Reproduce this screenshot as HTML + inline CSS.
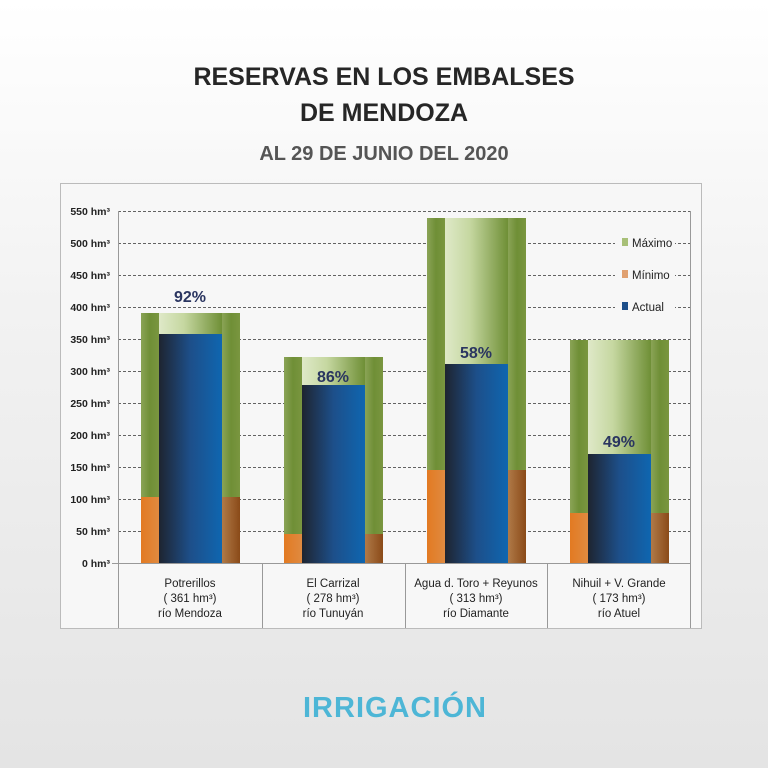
<!DOCTYPE html>
<html><head><meta charset="utf-8"><style>
body{margin:0;width:768px;height:768px;overflow:hidden;background:linear-gradient(#fff 0%,#f2f2f2 40%,#e4e4e4 100%);font-family:"Liberation Sans",sans-serif;}
</style></head><body>
<svg width="768" height="768" xmlns="http://www.w3.org/2000/svg" style="position:absolute;left:0;top:0">
<defs>
<linearGradient id="gS" x1="0" x2="1"><stop offset="0" stop-color="#8aa356"/><stop offset="0.5" stop-color="#6f8f36"/><stop offset="1" stop-color="#7a9640"/></linearGradient>
<linearGradient id="gI" x1="0" x2="1"><stop offset="0" stop-color="#dfe9c8"/><stop offset="0.4" stop-color="#c5d7a0"/><stop offset="1" stop-color="#6f8f36"/></linearGradient>
<linearGradient id="oL" x1="0" x2="1"><stop offset="0" stop-color="#e27a22"/><stop offset="1" stop-color="#e08a40"/></linearGradient>
<linearGradient id="oR" x1="0" x2="1"><stop offset="0" stop-color="#b07a48"/><stop offset="1" stop-color="#8a4a18"/></linearGradient>
<linearGradient id="bl" x1="0" x2="1"><stop offset="0" stop-color="#1e2430"/><stop offset="0.5" stop-color="#1d4f8a"/><stop offset="1" stop-color="#0f66b0"/></linearGradient>
</defs>
<text x="384" y="85" text-anchor="middle" font-size="25" font-weight="bold" fill="#262626">RESERVAS EN LOS EMBALSES</text>
<text x="384" y="121" text-anchor="middle" font-size="25" font-weight="bold" fill="#262626">DE MENDOZA</text>
<text x="384" y="160" text-anchor="middle" font-size="20" font-weight="bold" fill="#555">AL 29 DE JUNIO DEL 2020</text>
<rect x="60.5" y="183.5" width="641" height="445" fill="#f7f7f7" stroke="#bbb"/>
<g stroke="#333" stroke-dasharray="3,2" stroke-width="0.8">
<line x1="118" x2="690" y1="211.5" y2="211.5"/><line x1="118" x2="690" y1="243.5" y2="243.5"/><line x1="118" x2="690" y1="275.5" y2="275.5"/><line x1="118" x2="690" y1="307.5" y2="307.5"/><line x1="118" x2="690" y1="339.5" y2="339.5"/><line x1="118" x2="690" y1="371.5" y2="371.5"/><line x1="118" x2="690" y1="403.5" y2="403.5"/><line x1="118" x2="690" y1="435.5" y2="435.5"/><line x1="118" x2="690" y1="467.5" y2="467.5"/><line x1="118" x2="690" y1="499.5" y2="499.5"/><line x1="118" x2="690" y1="531.5" y2="531.5"/>
</g>
<rect x="615" y="232" width="60" height="85" fill="#f7f7f7"/>
<g font-size="10.5" font-weight="bold" fill="#222" text-anchor="end">
<text x="110" y="215">550 hm³</text><text x="110" y="247">500 hm³</text><text x="110" y="279">450 hm³</text><text x="110" y="311">400 hm³</text><text x="110" y="343">350 hm³</text><text x="110" y="375">300 hm³</text><text x="110" y="407">250 hm³</text><text x="110" y="439">200 hm³</text><text x="110" y="471">150 hm³</text><text x="110" y="503">100 hm³</text><text x="110" y="535">50 hm³</text><text x="110" y="567">0 hm³</text>
</g>
<g stroke="#999" stroke-width="1">
<line x1="118.5" y1="211" x2="118.5" y2="628"/><line x1="262.5" y1="563" x2="262.5" y2="628"/><line x1="405.5" y1="563" x2="405.5" y2="628"/><line x1="547.5" y1="563" x2="547.5" y2="628"/><line x1="690.5" y1="211" x2="690.5" y2="628"/><line x1="112" y1="563.5" x2="690" y2="563.5"/>
</g>
<g>
<rect x="141" y="313" width="18" height="250" fill="url(#gS)"/><rect x="222" y="313" width="18" height="250" fill="url(#gS)"/><rect x="159" y="313" width="63" height="250" fill="url(#gI)"/>
<rect x="141" y="497" width="18" height="66" fill="url(#oL)"/><rect x="222" y="497" width="18" height="66" fill="url(#oR)"/><rect x="159" y="334" width="63" height="229" fill="url(#bl)"/>
<rect x="284" y="357" width="18" height="206" fill="url(#gS)"/><rect x="365" y="357" width="18" height="206" fill="url(#gS)"/><rect x="302" y="357" width="63" height="206" fill="url(#gI)"/>
<rect x="284" y="534" width="18" height="29" fill="url(#oL)"/><rect x="365" y="534" width="18" height="29" fill="url(#oR)"/><rect x="302" y="385" width="63" height="178" fill="url(#bl)"/>
<rect x="427" y="218" width="18" height="345" fill="url(#gS)"/><rect x="508" y="218" width="18" height="345" fill="url(#gS)"/><rect x="445" y="218" width="63" height="345" fill="url(#gI)"/>
<rect x="427" y="470" width="18" height="93" fill="url(#oL)"/><rect x="508" y="470" width="18" height="93" fill="url(#oR)"/><rect x="445" y="364" width="63" height="199" fill="url(#bl)"/>
<rect x="570" y="340" width="18" height="223" fill="url(#gS)"/><rect x="651" y="340" width="18" height="223" fill="url(#gS)"/><rect x="588" y="340" width="63" height="223" fill="url(#gI)"/>
<rect x="570" y="513" width="18" height="50" fill="url(#oL)"/><rect x="651" y="513" width="18" height="50" fill="url(#oR)"/><rect x="588" y="454" width="63" height="109" fill="url(#bl)"/>
</g>
<g font-size="16" font-weight="bold" fill="#2a3560" text-anchor="middle">
<text x="190" y="302">92%</text><text x="333" y="382">86%</text><text x="476" y="358">58%</text><text x="619" y="447">49%</text>
</g>
<g font-size="11.5" fill="#222">
<rect x="622" y="238" width="6" height="8" fill="#a8c078"/><text x="632" y="247">Máximo</text>
<rect x="622" y="270" width="6" height="8" fill="#e0a070"/><text x="632" y="279">Mínimo</text>
<rect x="622" y="302" width="6" height="8" fill="#1d4f8a"/><text x="632" y="311">Actual</text>
</g>
<g font-size="11.5" fill="#222" text-anchor="middle">
<text x="190" y="587">Potrerillos</text><text x="190" y="602">( 361 hm³)</text><text x="190" y="617">río Mendoza</text>
<text x="333" y="587">El Carrizal</text><text x="333" y="602">( 278 hm³)</text><text x="333" y="617">río Tunuyán</text>
<text x="476" y="587">Agua d. Toro + Reyunos</text><text x="476" y="602">( 313 hm³)</text><text x="476" y="617">río Diamante</text>
<text x="619" y="587">Nihuil + V. Grande</text><text x="619" y="602">( 173 hm³)</text><text x="619" y="617">río Atuel</text>
</g>
<text x="395" y="717" text-anchor="middle" font-size="29" font-weight="bold" fill="#4db6d6" letter-spacing="1">IRRIGACIÓN</text>
</svg>
</body></html>
